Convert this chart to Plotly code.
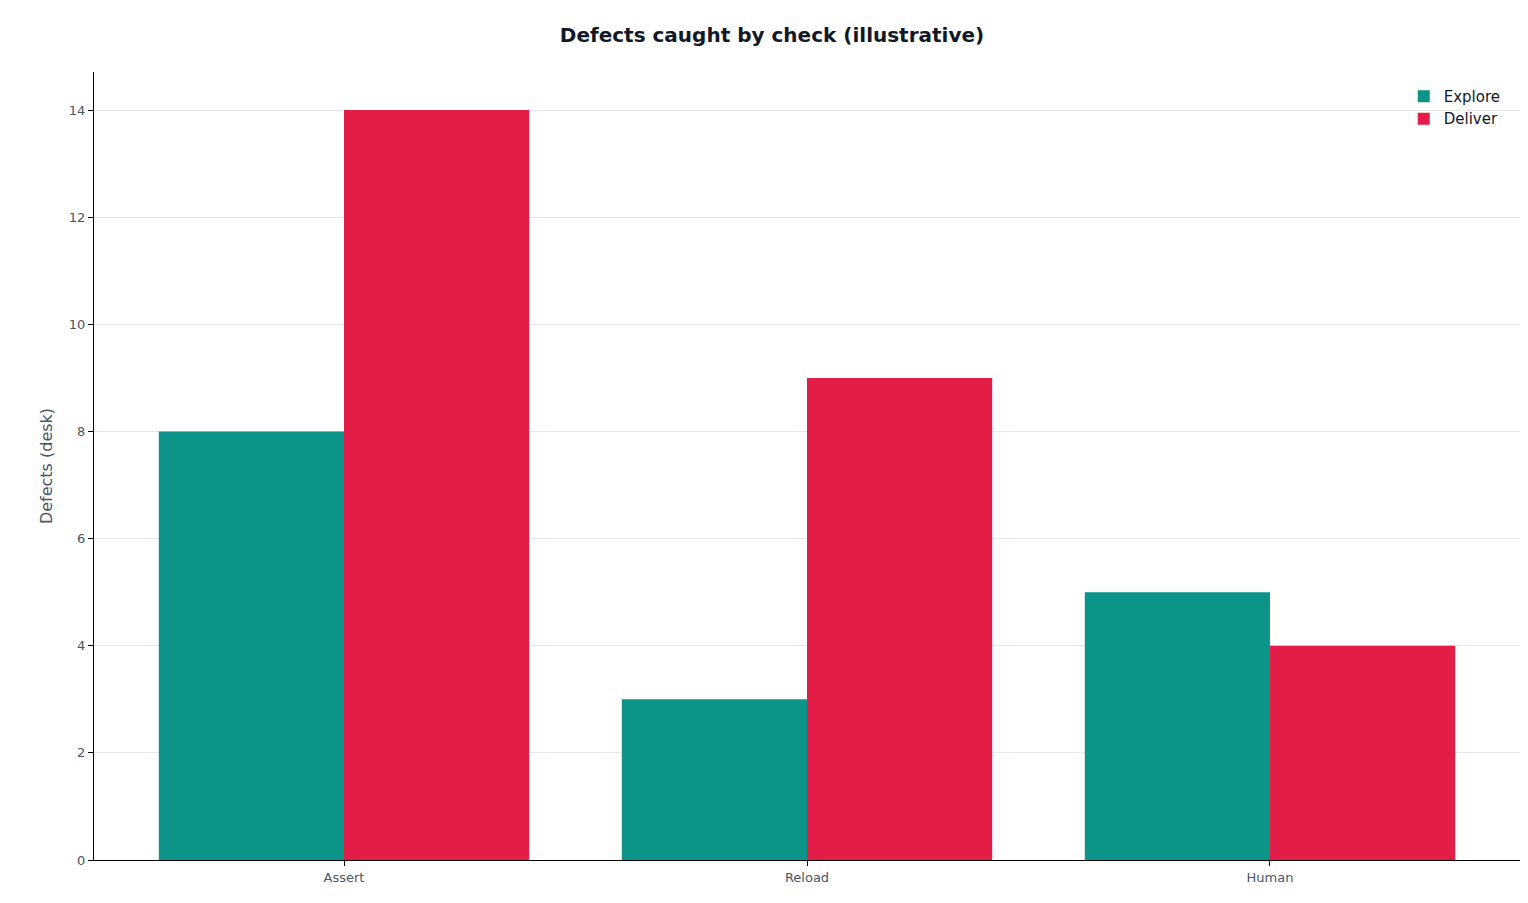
import plotly.graph_objects as go

categories = ["Assert", "Reload", "Human"]
explore = [8, 3, 5]
deliver = [14, 9, 4]

fig = go.Figure()
fig.add_bar(x=categories, y=explore, name="Explore", marker_color="#0d9488", marker_line_width=0)
fig.add_bar(x=categories, y=deliver, name="Deliver", marker_color="#e11d48", marker_line_width=0)

fig.update_layout(
    width=1528, height=903,
    margin=dict(l=86, r=16, t=64, b=51),
    paper_bgcolor="white", plot_bgcolor="white",
    barmode="group", bargap=0.2, bargroupgap=0,
    font=dict(family="DejaVu Sans", color="#4b5563", size=13),
    title=dict(text="<b>Defects caught by check (illustrative)</b>", x=0.5, xanchor="center",
               y=0.97, yanchor="middle", font=dict(size=20, color="#111827", family="DejaVu Sans")),
    legend=dict(x=0.99, y=0.99, xanchor="right", yanchor="top", bgcolor="rgba(0,0,0,0)",
                font=dict(size=15, color="#111827")),
    showlegend=True,
)
fig.update_xaxes(range=[-0.54, 2.54], showline=True, linecolor="black", linewidth=1.2,
                 ticks="outside", ticklen=5, tickcolor="black", showgrid=False)
fig.update_yaxes(range=[0, 14.71], dtick=2, showline=True, linecolor="black", linewidth=1.2,
                 ticks="outside", ticklen=5, tickcolor="black", showgrid=True,
                 gridcolor="#e5e7eb", zeroline=False,
                 title=dict(text="Defects (desk)", font=dict(size=16, color="#4b5563"), standoff=12))
fig.write_html("out.html")
